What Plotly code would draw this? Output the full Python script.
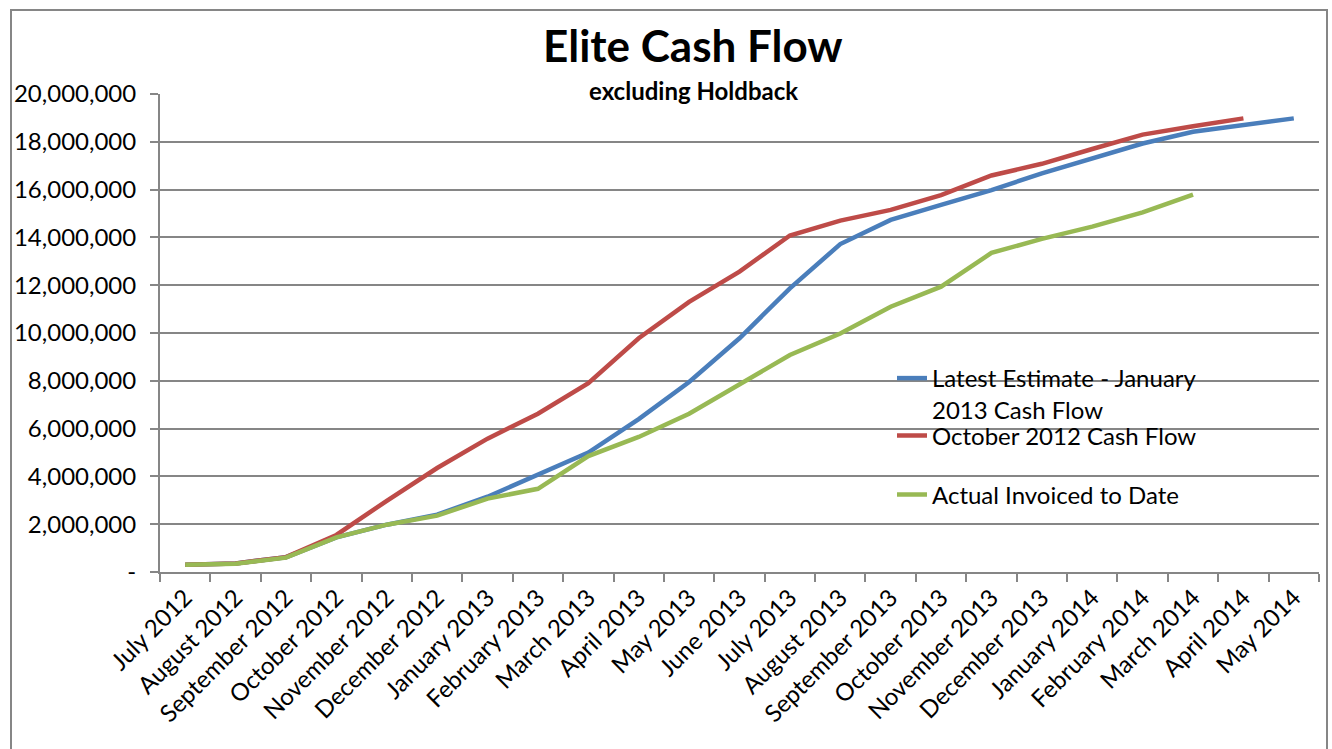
import plotly.graph_objects as go

months = ["July 2012", "August 2012", "September 2012", "October 2012", "November 2012",
          "December 2012", "January 2013", "February 2013", "March 2013", "April 2013",
          "May 2013", "June 2013", "July 2013", "August 2013", "September 2013",
          "October 2013", "November 2013", "December 2013", "January 2014", "February 2014",
          "March 2014", "April 2014", "May 2014"]

latest_estimate = [300000, 360000, 620000, 1450000, 1980000, 2400000, 3150000, 4100000,
                   5000000, 6400000, 7950000, 9780000, 11870000, 13720000, 14730000,
                   15360000, 15980000, 16680000, 17300000, 17930000, 18420000, 18700000,
                   18980000]
october_2012 = [300000, 360000, 620000, 1550000, 2980000, 4350000, 5580000, 6620000,
                7900000, 9780000, 11300000, 12570000, 14080000, 14700000, 15150000,
                15770000, 16590000, 17080000, 17700000, 18300000, 18650000, 18980000]
actual = [300000, 350000, 600000, 1450000, 1980000, 2360000, 3070000, 3480000, 4850000,
          5650000, 6620000, 7850000, 9080000, 9980000, 11100000, 11940000, 13350000,
          13940000, 14450000, 15050000, 15790000]

y_ticks = list(range(0, 20000001, 2000000))
y_tick_text = ["-"] + [f"{v:,}" for v in y_ticks[1:]]

series_names = ["Latest Estimate - January<br>2013 Cash Flow",
                "October 2012 Cash Flow",
                "Actual Invoiced to Date"]
colors = ["#4A7EBB", "#BE4B48", "#98B954"]

font = "Lato, 'Open Sans', sans-serif"

fig = go.Figure()
fig.add_trace(go.Scatter(x=months, y=latest_estimate, mode="lines", name=series_names[0],
                         line=dict(color=colors[0], width=4.5), legend="legend"))
fig.add_trace(go.Scatter(x=months[:len(october_2012)], y=october_2012, mode="lines",
                         name=series_names[1], line=dict(color=colors[1], width=4.5),
                         legend="legend2"))
fig.add_trace(go.Scatter(x=months[:len(actual)], y=actual, mode="lines", name=series_names[2],
                         line=dict(color=colors[2], width=4.5), legend="legend3"))

W, H = 1332, 749
L, R, T, B = 160, 1319, 94, 572
pw, ph = R - L, B - T

def px(x):
    return (x - L) / pw

def py(y):
    return (B - y) / ph

legend_common = dict(font=dict(family=font, size=24, color="black"), bgcolor="rgba(0,0,0,0)",
                     xanchor="left", yanchor="middle", valign="top", borderwidth=0,
                     itemwidth=30)

fig.update_layout(
    width=W, height=H,
    margin=dict(l=L, r=W - R, t=T, b=H - B),
    paper_bgcolor="white", plot_bgcolor="white",
    font=dict(family=font, size=24, color="black"),
    showlegend=True,
    legend=dict(x=px(892), y=py(394), **legend_common),
    legend2=dict(x=px(892), y=py(436), **legend_common),
    legend3=dict(x=px(892), y=py(495), **legend_common),
    xaxis=dict(
        type="category", tickson="boundaries", ticks="outside", ticklen=8,
        tickcolor="#868686", tickwidth=2, showline=True, linecolor="#868686", linewidth=2,
        showgrid=False, tickangle=-45, tickfont=dict(family=font, size=24, color="black"),
        range=[-0.5, len(months) - 0.5], zeroline=False,
    ),
    yaxis=dict(
        range=[0, 20000000], tickvals=y_ticks, ticktext=y_tick_text, ticks="outside",
        ticklen=8, tickcolor="#868686", tickwidth=2, showline=True, linecolor="#868686",
        linewidth=2, showgrid=True, gridcolor="#868686", gridwidth=2, zeroline=False,
        tickfont=dict(family=font, size=24, color="black"), ticklabelstandoff=9,
    ),
    annotations=[
        dict(text="<b>Elite Cash Flow</b>", xref="paper", yref="paper", x=px(693), y=py(45),
             xanchor="center", yanchor="middle", showarrow=False,
             font=dict(family=font, size=44, color="black")),
        dict(text="<b>excluding Holdback</b>", xref="paper", yref="paper", x=px(693), y=py(90),
             xanchor="center", yanchor="middle", showarrow=False,
             font=dict(family=font, size=24, color="black")),
    ],
    shapes=[
        dict(type="rect", xref="paper", yref="paper", x0=px(11), x1=px(1327), y0=py(760),
             y1=py(10), line=dict(color="#868686", width=2), layer="below"),
    ],
)

fig.write_html("out.html")
